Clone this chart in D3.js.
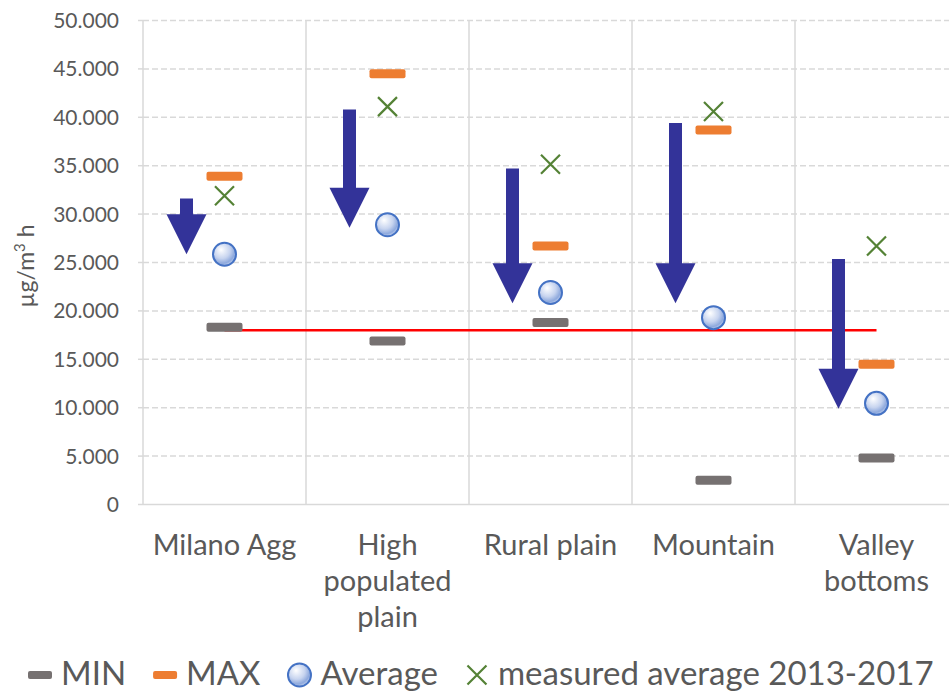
<!DOCTYPE html>
<html>
<head>
<meta charset="utf-8">
<script src="https://cdn.jsdelivr.net/npm/d3@7"></script>
<style>
  html, body { margin: 0; padding: 0; background: #fff; }
  svg { display: block; font-family: Lato, "Open Sans", sans-serif; }
</style>
</head>
<body>
<svg id="chart" width="949" height="692"></svg>
<script>
// Zone categories
const categories = ["Milano Agg", "High populated plain", "Rural plain", "Mountain", "Valley bottoms"];

// Series (µg/m³ h)
const minValues      = [18300, 16900, 18800, 2500, 4800];
const maxValues      = [33900, 44500, 26700, 38700, 14500];
const avgValues      = [25850, 28900, 21900, 19300, 10450];
const measuredValues = [31900, 41100, 35150, 40600, 26700];

// Reduction arrows: start and end value per zone
const arrowFrom = [31600, 40800, 34700, 39400, 25350];
const arrowTo   = [25850, 28600, 20800, 20800, 9900];

// Target threshold line
const limitValues = [18000, 18000, 18000, 18000, 18000];

// Axis
const yTicks = [0, 5000, 10000, 15000, 20000, 25000, 30000, 35000, 40000, 45000, 50000];
const yTitle = "µg/m";
const legendLabels = ["MIN", "MAX", "Average", "measured average 2013-2017"];

const svg = d3.select("#chart");
const textColor = "#595959";
const gridColor = "#D9D9D9";

const x = d3.scaleBand().domain(categories).range([143, 958]).padding(0);
const y = d3.scaleLinear().domain([0, 50000]).range([504.5, 20.5]);
const cx = c => x(c) + x.bandwidth() / 2;

const it = d3.formatLocale({ decimal: ",", thousands: ".", grouping: [3], currency: ["€", ""] });
const fmt = it.format(",d");

// Radial gradient for the average bubbles
const defs = svg.append("defs");
const grad = defs.append("radialGradient").attr("id", "bubble")
  .attr("cx", "40%").attr("cy", "35%").attr("r", "65%").attr("fx", "35%").attr("fy", "30%");
grad.append("stop").attr("offset", "0%").attr("stop-color", "#FFFFFF");
grad.append("stop").attr("offset", "55%").attr("stop-color", "#C7D4EF");
grad.append("stop").attr("offset", "85%").attr("stop-color", "#8EA9DD");
grad.append("stop").attr("offset", "100%").attr("stop-color", "#B9CAEB");

// Horizontal dashed gridlines
svg.append("g").selectAll("line").data(yTicks.filter(d => d > 0)).join("line")
  .attr("x1", 143).attr("x2", 958)
  .attr("y1", d => y(d)).attr("y2", d => y(d))
  .attr("stroke", gridColor).attr("stroke-width", 1.5).attr("stroke-dasharray", "6,3");

// Category separators and the left axis line
const bounds = categories.map(c => x(c)).concat([x.range()[1]]);
svg.append("g").selectAll("line").data(bounds).join("line")
  .attr("x1", d => d).attr("x2", d => d)
  .attr("y1", y(50000)).attr("y2", y(0))
  .attr("stroke", gridColor).attr("stroke-width", 1.5);

// Baseline
svg.append("line").attr("x1", 143).attr("x2", 958).attr("y1", y(0)).attr("y2", y(0))
  .attr("stroke", gridColor).attr("stroke-width", 1.5);

// Y tick marks and labels
svg.append("g").selectAll("line").data(yTicks).join("line")
  .attr("x1", 138).attr("x2", 143).attr("y1", d => y(d)).attr("y2", d => y(d))
  .attr("stroke", gridColor).attr("stroke-width", 1.5);
svg.append("g").selectAll("text").data(yTicks).join("text")
  .attr("x", 119).attr("y", d => y(d)).attr("dy", "0.36em")
  .attr("text-anchor", "end").attr("fill", textColor)
  .attr("font-size", 21).text(d => fmt(d));

// Y axis title
const yt = svg.append("text")
  .attr("transform", "translate(34,266) rotate(-90)")
  .attr("text-anchor", "middle").attr("fill", textColor).attr("font-size", 23);
yt.append("tspan").text(yTitle);
yt.append("tspan").attr("dy", -9).attr("font-size", 15).text("3");
yt.append("tspan").attr("dy", 9).text(" h");

// Category labels, wrapped to the band width
const lineH = 36;
svg.append("g").selectAll("text").data(categories).join("text")
  .attr("x", d => cx(d)).attr("y", 555)
  .attr("text-anchor", "middle").attr("fill", textColor).attr("font-size", 29)
  .each(function (d) {
    const t = d3.select(this);
    const words = d.split(" ");
    let line = [], lines = [];
    const probe = t.append("tspan");
    words.forEach(w => {
      const test = line.concat([w]).join(" ");
      probe.text(test);
      if (probe.node().getComputedTextLength() > 156 && line.length) {
        lines.push(line.join(" "));
        line = [w];
      } else line.push(w);
    });
    lines.push(line.join(" "));
    probe.remove();
    lines.forEach((l, i) => t.append("tspan").attr("x", cx(d)).attr("y", 555 + i * lineH).text(l));
  });

// Threshold line across zones
svg.append("path")
  .attr("d", d3.line().x((d, i) => cx(categories[i])).y(d => y(d))(limitValues))
  .attr("fill", "none").attr("stroke", "#FF0000").attr("stroke-width", 2.5);

// Reduction arrows
const shaftW = 13, headW = 40, headL = 40, arrowShift = -38;
svg.append("g").selectAll("path").data(categories).join("path")
  .attr("d", (c, i) => {
    const ax = cx(c) + arrowShift;
    const top = y(arrowFrom[i]), tip = y(arrowTo[i]);
    const hb = tip - headL;
    return `M${ax - shaftW / 2},${top} L${ax + shaftW / 2},${top} L${ax + shaftW / 2},${hb}` +
      ` L${ax + headW / 2},${hb} L${ax},${tip} L${ax - headW / 2},${hb} L${ax - shaftW / 2},${hb} Z`;
  })
  .attr("fill", "#333399");

// MIN and MAX dashes
function dashes(values, color) {
  svg.append("g").selectAll("rect").data(values).join("rect")
    .attr("x", (d, i) => cx(categories[i]) - 18).attr("y", d => y(d) - 4.5)
    .attr("width", 36).attr("height", 9).attr("rx", 2)
    .attr("fill", color);
}
dashes(minValues, "#767171");
dashes(maxValues, "#ED7D31");

// Average bubbles
svg.append("g").selectAll("circle").data(avgValues).join("circle")
  .attr("cx", (d, i) => cx(categories[i])).attr("cy", d => y(d)).attr("r", 11.5)
  .attr("fill", "url(#bubble)").attr("stroke", "#4472C4").attr("stroke-width", 2);

// Measured averages
function cross(g, px, py, s) {
  g.append("path").attr("d", `M${px - s},${py - s}L${px + s},${py + s}M${px - s},${py + s}L${px + s},${py - s}`)
    .attr("stroke", "#548235").attr("stroke-width", 2.2).attr("fill", "none");
}
const gx = svg.append("g");
measuredValues.forEach((d, i) => cross(gx, cx(categories[i]), y(d), 9.5));

// Legend
const lg = svg.append("g").attr("font-size", 33).attr("fill", textColor);
const ly = 675;
let lx = 28;
legendLabels.forEach((lab, i) => {
  if (i === 0 || i === 1) {
    lg.append("rect").attr("x", lx).attr("y", ly - 4).attr("width", 24).attr("height", 8).attr("rx", 2)
      .attr("fill", i === 0 ? "#767171" : "#ED7D31");
  } else if (i === 2) {
    lg.append("circle").attr("cx", lx + 12).attr("cy", ly).attr("r", 11.5)
      .attr("fill", "url(#bubble)").attr("stroke", "#4472C4").attr("stroke-width", 2);
  } else {
    cross(lg, lx + 12, ly, 9.5);
  }
  const t = lg.append("text").attr("x", lx + 33).attr("y", 684.5).text(lab);
  lx += 33 + t.node().getComputedTextLength() + 27;
});
</script>
</body>
</html>
